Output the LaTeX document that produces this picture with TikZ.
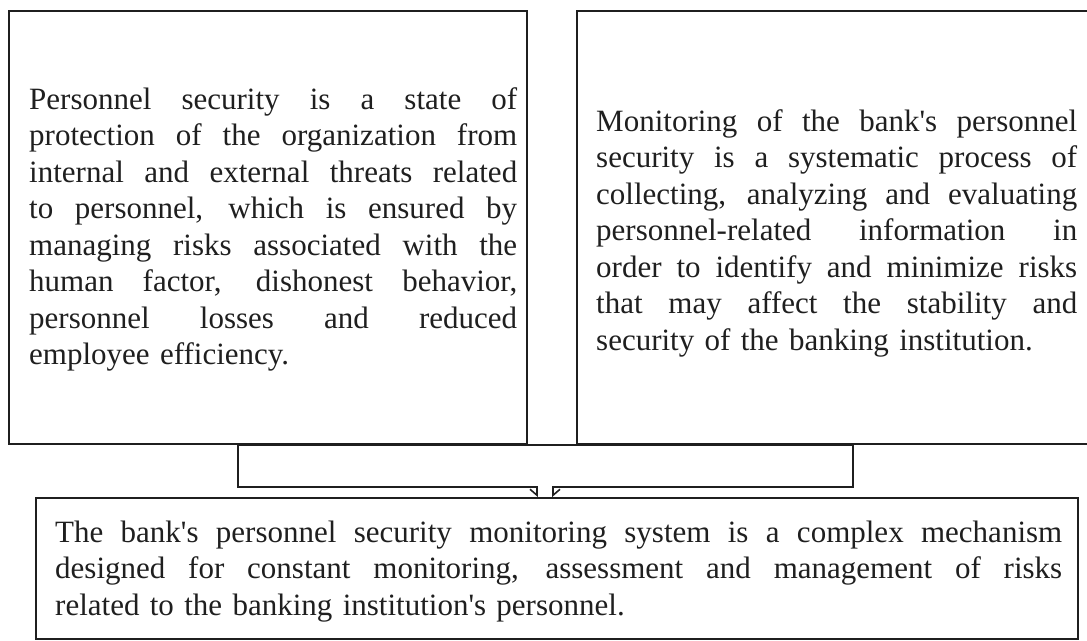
\documentclass[tikz,border=0pt]{standalone}
\usepackage{fontspec}
\setmainfont{Liberation Serif}[Ligatures=TeXOff]
\usetikzlibrary{arrows.meta}
% one justified line: the word spaces share the spare room equally
\newcommand\jline[1]{\makebox[\jw][s]{\spaceskip=\fontdimen2\font plus 1fil\relax #1}\\}
\tikzset{
  box/.style={draw=black!88, line width=1.8pt, inner sep=0pt, anchor=north west},
  para/.style={inner sep=0pt, anchor=base west, align=left, text=black!88,
               font=\fontsize{31}{36.5}\selectfont,
               text width=#1, execute at begin node={\def\jw{#1}}},
  link/.style={draw=black!88, line width=1.8pt},
  tipW/.style={-{Straight Barb[right,length=6pt,width=14pt,line width=1.6pt]}},
  tipE/.style={-{Straight Barb[left,length=6pt,width=14pt,line width=1.6pt]}},
}
\begin{document}
\begin{tikzpicture}[x=1pt,y=-1pt]
\useasboundingbox (0,0) rectangle (1087,640);

% the three boxes
\node[box, minimum width=518pt, minimum height=433pt] (def) at (8,10) {};
\node[box, minimum width=516pt, minimum height=433pt] (mon) at (576,10) {};
\node[box, minimum width=1042pt, minimum height=141pt] (sys) at (35,497) {};

% definition of personnel security
\node[para=488pt] (defT) at (29,109) {%
\jline{Personnel security is a state of}
\jline{protection of the organization from}
\jline{internal and external threats related}
\jline{to personnel, which is ensured by}
\jline{managing risks associated with the}
\jline{human factor, dishonest behavior,}
\jline{personnel losses and reduced}
employee efficiency.};

% definition of monitoring
\node[para=481pt] (monT) at (596,131) {%
\jline{Monitoring of the bank's personnel}
\jline{security is a systematic process of}
\jline{collecting, analyzing and evaluating}
\jline{personnel-related information in}
\jline{order to identify and minimize risks}
\jline{that may affect the stability and}
security of the banking institution.};

% the monitoring system
\node[para=1007pt] (sysT) at (55,542) {%
\jline{The bank's personnel security monitoring system is a complex mechanism}
\jline{designed for constant monitoring, assessment and management of risks}
related to the banking institution's personnel.};

% bracket joining both definitions into the system box
\coordinate (jl) at (238,445);
\coordinate (jr) at (853,445);
\coordinate (ml) at (537,487);
\coordinate (mr) at (553,487);
\draw[link] (jl) -- (jr);
\draw[link, tipW] (jl) |- (ml) -- (ml |- sys.north);
\draw[link, tipE] (jr) |- (mr) -- (mr |- sys.north);
\end{tikzpicture}
\end{document}
